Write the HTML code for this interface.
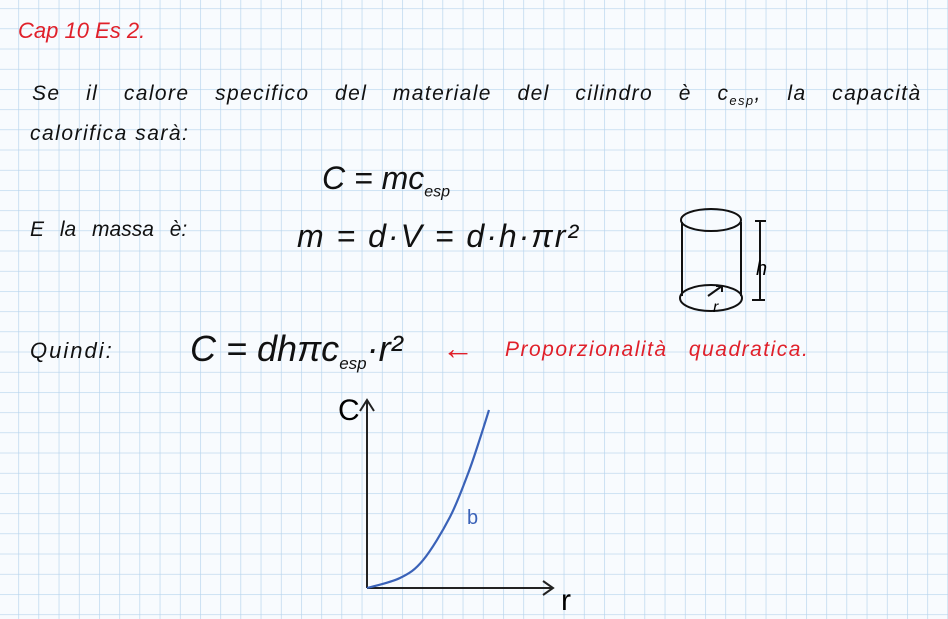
<!DOCTYPE html>
<html><head><meta charset="utf-8"><style>
body{margin:0;width:948px;height:619px;overflow:hidden;background:#f8fbfe;font-family:"Liberation Sans",sans-serif}
.t{position:absolute;white-space:nowrap;color:#111;font-style:italic}
.r{color:#e0202a}
</style></head><body>
<svg width="948" height="619" style="position:absolute;left:0;top:0">
<defs><pattern id="g" x="18.3" y="8.3" width="20.2" height="20.2" patternUnits="userSpaceOnUse">
<path d="M0 0H20.2M0 0V20.2" stroke="#b5d3ec" stroke-width="1.3" fill="none"/></pattern></defs>
<rect width="948" height="619" fill="url(#g)"/>
<g stroke="#111" stroke-width="2" fill="none">
<ellipse cx="711" cy="220" rx="30" ry="11"/>
<ellipse cx="711" cy="298" rx="31" ry="13"/>
<path d="M682 222V296M741 222V296"/>
<path d="M760 221V300M755 221H766M752 300H765"/>
<path d="M708 296L722 286M716 286H722V292"/>
</g>
<text x="756" y="275" font-size="20" font-style="italic" font-family="Liberation Sans">h</text>
<text x="713" y="312" font-size="16" font-style="italic" font-family="Liberation Sans">r</text>
<g id="chart"></g>
</svg>
<div class="t r" style="left:18px;top:18px;font-size:22px">Cap 10 Es 2.</div>
<div class="t" style="left:32px;top:82px;font-size:21px;word-spacing:18.4px;letter-spacing:1.4px">Se il calore specifico del materiale del cilindro è c<sub style="font-size:13px">esp</sub>, la capacità</div>
<div class="t" style="left:30px;top:122px;font-size:21px;letter-spacing:1.5px">calorifica sarà:</div>
<div class="t" style="left:322px;top:160px;font-size:32px">C = mc<sub style="font-size:16px">esp</sub></div>
<div class="t" style="left:30px;top:218px;font-size:21px;word-spacing:10px">E la massa è:</div>
<div class="t" style="left:297px;top:218px;font-size:32px;letter-spacing:2px">m = d·V = d·h·πr²</div>
<div class="t" style="left:30px;top:338px;font-size:22px;letter-spacing:2px">Quindi:</div>
<div class="t" style="left:190px;top:328px;font-size:36px">C = dhπc<sub style="font-size:17px">esp</sub>·r²</div>
<div class="t r" style="left:442px;top:330px;font-size:32px;font-style:normal">←</div>
<div class="t r" style="left:505px;top:338px;font-size:21px;letter-spacing:1.5px;word-spacing:14px">Proporzionalità quadratica.</div>
<script>
const rValues=[0,0.27,0.46,0.68,0.83,0.93,1.0];
const cValues=[0,0.056,0.157,0.399,0.646,0.848,1];
const ox=367,oy=588,w=122,h=178;
const sx=v=>ox+v*w, sy=v=>oy-v*h;
const ns="http://www.w3.org/2000/svg",g=document.getElementById('chart');
function mk(t,a){const e=document.createElementNS(ns,t);for(const k in a)e.setAttribute(k,a[k]);g.appendChild(e);return e;}
const ax=mk('path',{d:`M${ox} ${oy}V400M360 411L${ox} 400L374 411M${ox} ${oy}H553M543 581L553 ${oy}L543 595`,stroke:'#222',"stroke-width":2,fill:'none'});


const pts=rValues.map((r,i)=>[sx(r),sy(cValues[i])]);
let d='M'+pts[0][0]+' '+pts[0][1];
for(let i=0;i<pts.length-1;i++){
 const p0=pts[Math.max(0,i-1)],p1=pts[i],p2=pts[i+1],p3=pts[Math.min(pts.length-1,i+2)];
 d+=` C${p1[0]+(p2[0]-p0[0])/6} ${p1[1]+(p2[1]-p0[1])/6} ${p2[0]-(p3[0]-p1[0])/6} ${p2[1]-(p3[1]-p1[1])/6} ${p2[0]} ${p2[1]}`;
}
const ln=mk('path',{d:d,stroke:'#3a62b8',"stroke-width":2.2,fill:'none',"stroke-linejoin":"round"});


const yl=mk('text',{x:338,y:420,"font-size":30,"font-family":"Liberation Sans"});yl.textContent='C';


const xl=mk('text',{x:561,y:610,"font-size":30,"font-family":"Liberation Sans"});xl.textContent='r';


const bl=mk('text',{x:467,y:524,"font-size":20,fill:'#3a62b8',"font-family":"Liberation Sans"});bl.textContent='b';


</script>
</body></html>
